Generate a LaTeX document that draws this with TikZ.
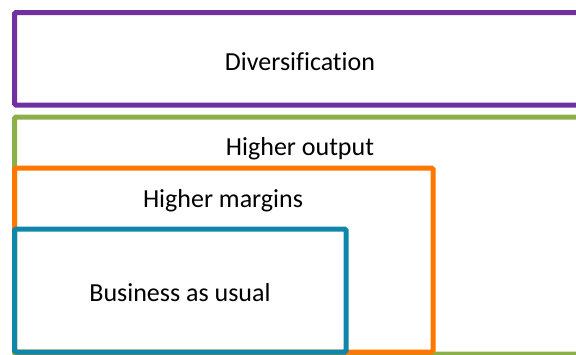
\documentclass[tikz,border=0pt]{standalone}
\usepackage{fontspec}
\setmainfont{Carlito}[Ligatures=NoCommon]
\usepackage{tikz}
\usetikzlibrary{positioning}
\definecolor{divpurple}{HTML}{7030A0}
\definecolor{outgreen}{HTML}{8BB04A}
\definecolor{margorange}{HTML}{FF7700}
\definecolor{usualblue}{HTML}{0E87AA}

\tikzset{
  scopebox/.style={line width=5pt, rounded corners=1.5pt},
  scopelabel/.style={anchor=base, inner sep=0pt, font=\fontsize{26}{31}\selectfont}
}

\begin{document}
\begin{tikzpicture}[x=1pt, y=-1pt]
  \useasboundingbox (0,0) rectangle (576,354);
  \clip (0,0) rectangle (576,354);

  % nested strategy boxes, outermost first
  \draw[scopebox, draw=divpurple] (14.5,12.5) rectangle (620,105);
  \draw[scopebox, draw=outgreen] (14.5,117) rectangle (620,354);
  \draw[scopebox, draw=margorange] (14.5,168) rectangle (433,352);
  \draw[scopebox, draw=usualblue] (14.5,229) rectangle (346,352);

  % labels
  \node[scopelabel] (diversify) at (300,70) {Diversification};
  \node[scopelabel] (output) at (300,155) {Higher output};
  \node[scopelabel] (margins) at (223,207) {Higher margins};
  \node[scopelabel] (usual) at (180,301) {Business as usual};
\end{tikzpicture}
\end{document}
